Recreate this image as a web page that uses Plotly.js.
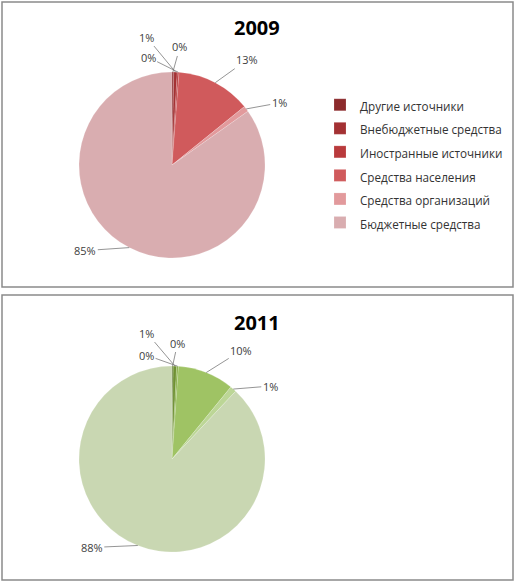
<!DOCTYPE html>
<html>
<head>
<meta charset="utf-8">
<script src="https://cdn.plot.ly/plotly-3.0.1.min.js"></script>
<style>html,body{margin:0;padding:0;background:#fff}#chart{width:515px;height:582px}</style>
</head>
<body>
<div id="chart"></div>
<script>
const categories = ["Другие источники","Внебюджетные средства","Иностранные источники","Средства населения","Средства организаций","Бюджетные средства"];
const values2009 = [0.3, 0.6, 0.3, 13.0, 1.0, 84.8];
const values2011 = [0.2, 0.6, 0.3, 9.8, 1.1, 88.0];
const titles = ["2009", "2011"];
const colors2009 = ["#8c2a2c","#a33133","#b93a3c","#d05a5c","#e29a9c","#d9adb0"];
const colors2011 = ["#5e7a2e","#6f9133","#84ad40","#9fc364","#bcd696","#c9d7b2"];
// label offsets (pixels) from the slice edge, style only
const labelOffsets2009 = [[7,-25],[-29,-35],[-30,-15],[32,-23],[33,-6],[-44,3]];
const labelOffsets2011 = [[5,-23],[-28,-33],[-31,-11],[35,-22],[37,-3],[-46,2]];

const W = 515, H = 582;
const FONT = "'Open Sans', 'Noto Sans', sans-serif";
const dom2009 = {x: [0.1534, 0.5146], y: [0.5567, 0.8763]};
const dom2011 = {x: [0.1534, 0.5146], y: [0.0515, 0.3711]};

function pie(vals, cols, domain, legend) {
  return {
    type: "pie",
    labels: categories.map(c => '<span style="font-size:11.7px">' + c + '</span>'),
    values: vals, sort: false, direction: "clockwise", rotation: 0,
    domain: domain, legend: legend,
    marker: {colors: cols, line: {color: "rgba(255,255,255,0.35)", width: 0.5}},
    textposition: "none", hoverinfo: "none"
  };
}
function labelAnnotations(vals, domain, offsets) {
  const total = vals.reduce((a, b) => a + b, 0);
  const cx = (domain.x[0] + domain.x[1]) / 2 * W;
  const cy = (1 - (domain.y[0] + domain.y[1]) / 2) * H;
  const r = Math.min((domain.x[1] - domain.x[0]) * W, (domain.y[1] - domain.y[0]) * H) / 2;
  let cum = 0;
  return vals.map((v, i) => {
    const th = (cum + v / 2) / total * 2 * Math.PI;
    cum += v;
    const px = cx + r * Math.sin(th), py = cy - r * Math.cos(th);
    return {
      xref: "paper", yref: "paper", x: px / W, y: 1 - py / H,
      text: Math.round(v / total * 100) + "%",
      showarrow: true, arrowhead: 0, arrowwidth: 0.8, arrowcolor: "#7a7a7a",
      ax: offsets[i][0], ay: offsets[i][1], standoff: 0,
      font: {family: FONT, size: 11, color: "#404040"}
    };
  });
}
const data = [
  pie(values2009, colors2009, dom2009, "legend"),
  pie(values2011, colors2011, dom2011, "legend2")
];
const legendBase = {x: 320 / W, xanchor: "left", yanchor: "top", font: {family: FONT, size: 15.8, color: "#333333"}, bgcolor: "rgba(0,0,0,0)"};
const layout = {
  width: W, height: H, margin: {l: 0, r: 0, t: 0, b: 0},
  paper_bgcolor: "#fff", showlegend: true,
  legend: Object.assign({}, legendBase, {y: 1 - 88 / H}),
  legend2: Object.assign({}, legendBase, {y: 1 - 381 / H}),
  shapes: [
    {type: "rect", xref: "paper", yref: "paper", x0: 2 / W, x1: 513 / W, y0: 1 - 287 / H, y1: 1 - 2 / H, line: {color: "#8a8a8a", width: 1.5}},
    {type: "rect", xref: "paper", yref: "paper", x0: 2 / W, x1: 513 / W, y0: 1 - 580 / H, y1: 1 - 295 / H, line: {color: "#8a8a8a", width: 1.5}}
  ],
  annotations: [
    {text: "<b>" + titles[0] + "</b>", xref: "paper", yref: "paper", x: 257 / W, y: 1 - 27 / H, xanchor: "center", yanchor: "middle", showarrow: false, font: {family: FONT, size: 20, color: "#000"}},
    {text: "<b>" + titles[1] + "</b>", xref: "paper", yref: "paper", x: 257 / W, y: 1 - 322 / H, xanchor: "center", yanchor: "middle", showarrow: false, font: {family: FONT, size: 20, color: "#000"}}
  ].concat(labelAnnotations(values2009, dom2009, labelOffsets2009))
   .concat(labelAnnotations(values2011, dom2011, labelOffsets2011))
};
Plotly.newPlot("chart", data, layout, {displayModeBar: false, staticPlot: true});
</script>
</body>
</html>
